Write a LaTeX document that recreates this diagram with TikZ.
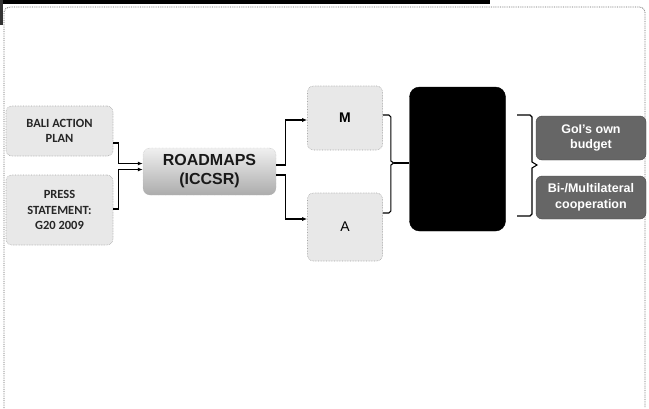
\documentclass[tikz,border=0pt]{standalone}
\usepackage{fontspec}
\setmainfont{Liberation Sans}
\newfontfamily\cb{Carlito}
\usetikzlibrary{arrows.meta}
\begin{document}
\begin{tikzpicture}[x=1pt,y=-1pt,
  lightbox/.style={draw=gray!70,densely dotted,line width=0.6pt,rounded corners=6pt,fill=gray!18,
     align=center,inner sep=2pt},
  leftbox/.style={lightbox,font=\cb\bfseries\fontsize{12.5}{15.5}\selectfont,text=black!85},
  roadbox/.style={draw=gray!60,densely dotted,rounded corners=7pt,top color=gray!12,bottom color=gray!65,
     align=center,font=\bfseries\fontsize{16}{19}\selectfont,text=black!90},
  mabox/.style={lightbox,font=\fontsize{14}{16}\selectfont,text=black},
  blackbox/.style={fill=black,draw=black,rounded corners=10pt},
  darkbox/.style={fill=black!60,draw=black!70,rounded corners=6pt,align=center,text=white,
     font=\bfseries\fontsize{12.5}{15.5}\selectfont},
  conn/.style={line width=1.1pt,-{Latex[length=5pt,width=4pt]}},
  brace/.style={line width=1.1pt}]
\useasboundingbox (0,0) rectangle (649,408);
\fill[white] (0,0) rectangle (649,408);
% scanned page frame
\fill[black] (0,0) rectangle (490,3.5);
\fill[black!80] (0,0) rectangle (3,25);
\draw[black!60,densely dotted,line width=0.8pt] (4,408) -- (4,12) to[out=90,in=180] (10,7) -- (640,7) to[out=0,in=90] (645,12) -- (645,408);

% nodes
\node[leftbox,minimum width=107pt,minimum height=50pt] (bali) at (59.5,131) {BALI ACTION\\PLAN};
\node[leftbox,minimum width=107pt,minimum height=70pt] (press) at (59.5,210) {PRESS\\STATEMENT:\\G20 2009};
\node[roadbox,minimum width=133pt,minimum height=47pt] (road) at (209.5,171.5) {ROADMAPS\\(ICCSR)};
\node[mabox,minimum width=75pt,minimum height=64pt] (m) at (345,118) {\textbf{M}};
\node[mabox,minimum width=75pt,minimum height=68pt] (a) at (345,227) {A};
\node[blackbox,minimum width=96pt,minimum height=144pt] (blk) at (457.5,159) {};
\node[darkbox,minimum width=110pt,minimum height=44pt] (gb) at (591,138) {GoI's own\\budget};
\node[darkbox,minimum width=110pt,minimum height=43pt] (bm) at (591,197.5) {Bi-/Multilateral\\cooperation};

% connectors left
\draw[conn] ([yshift=-12pt]bali.east) -- ++(5,0) |- ([yshift=8pt]road.west);
\draw[conn] ([yshift=1pt]press.east) -- ++(5,0) |- ([yshift=2pt]road.west);
% roadmaps to M and A
\draw[conn] ([yshift=6.5pt]road.east) -- ++(9,0) |- ([yshift=-2pt]m.west);
\draw[conn] ([yshift=-3.5pt]road.east) -- ++(9,0) |- ([yshift=8pt]a.west);
% M, A to black box
\coordinate (mj) at ([xshift=8pt,yshift=-4pt]m.east |- blk.west);
\draw[brace] ([yshift=3pt]m.east) -- ++(6,0) -- ++(2,2) -- ([yshift=2pt]mj);
\draw[brace] ([yshift=14pt]a.east) -- ++(6,0) -- ++(2,-2) -- ([yshift=-2pt]mj);
\draw[brace] ([yshift=2pt]mj) -- ([xshift=3pt]mj) -- ([yshift=-2pt]mj);
\draw[brace] ([xshift=3pt]mj) -- (blk.west |- mj);
% right brace
\coordinate (t1) at (517,115);
\coordinate (t2) at (517,216);
\coordinate (cusp) at (537,165);
\draw[brace] (t1) -- (530,115) -- (532,117) -- (532,162) -- (cusp) -- (532,168) -- (532,214) -- (530,216) -- (t2);
\end{tikzpicture}
\end{document}
